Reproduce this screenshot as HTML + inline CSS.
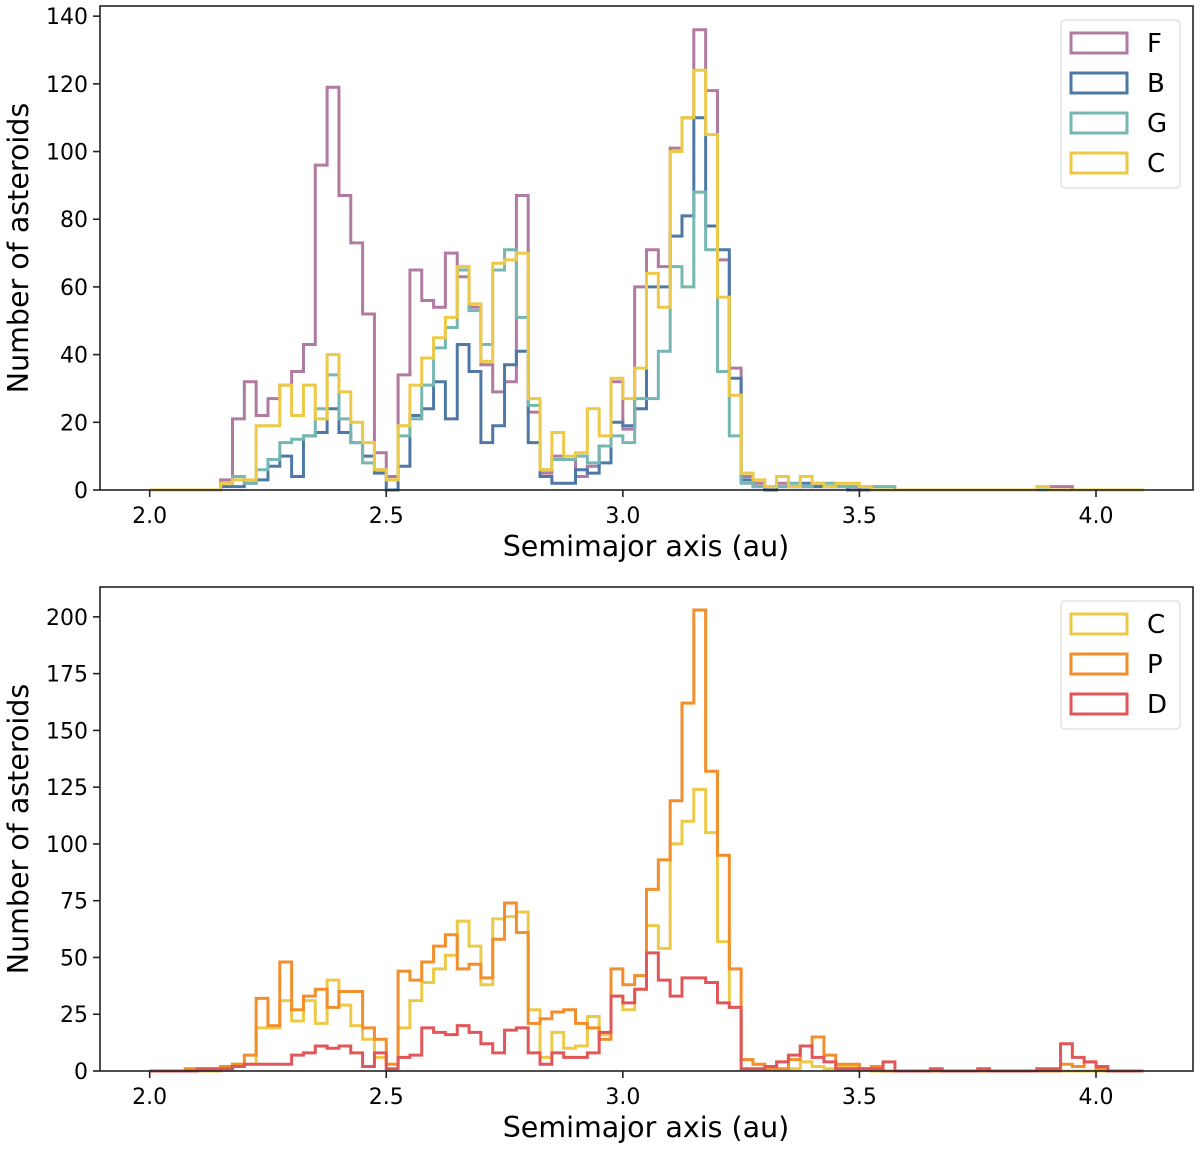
<!DOCTYPE html>
<html><head><meta charset="utf-8"><style>
body{margin:0;background:#fff}
svg text{font-family:"DejaVu Sans","Liberation Sans",sans-serif;fill:#000}
</style></head><body>
<svg id="chart" width="1200" height="1151" viewBox="0 0 1200 1151" xmlns="http://www.w3.org/2000/svg"></svg>
<script>
const binStart = 2.0;
const binWidth = 0.025;
const seriesF = [0,0,0,0,0,0,3,21,32,22,27,31,35,43,96,119,87,73,52,11,4,34,65,56,54,70,63,54,37,29,32,87,23,5,10,9,4,7,13,32,18,60,71,66,101,110,136,118,68,36,4,2,1,2,1,1,1,1,1,1,0,0,0,0,0,0,0,0,0,0,0,0,0,0,0,0,1,1,0,0,0,0,0,0];
const seriesB = [0,0,0,0,0,0,1,1,2,3,7,10,4,16,17,24,17,14,10,5,0,7,22,24,32,21,43,35,14,19,37,41,14,4,2,2,6,5,8,20,19,24,60,60,75,81,110,78,71,33,3,1,0,1,1,2,1,1,1,0,0,0,0,0,0,0,0,0,0,0,0,0,0,0,0,0,0,0,0,0,0,0,0,0];
const seriesG = [0,0,0,0,0,0,2,4,2,6,9,14,15,16,24,34,21,14,8,6,3,16,21,31,42,48,65,53,43,65,71,51,25,6,9,9,10,8,13,16,14,27,27,41,66,60,88,71,35,16,2,1,1,1,2,1,2,2,1,1,1,1,1,0,0,0,0,0,0,0,0,0,0,0,0,0,0,0,0,0,0,0,0,0];
const seriesC = [0,0,0,0,0,0,2,3,3,19,19,31,22,31,21,40,29,20,14,6,3,19,31,39,45,51,66,55,38,67,68,70,27,6,17,10,11,24,16,33,27,36,64,54,100,110,124,105,57,28,5,3,1,4,1,4,2,1,2,2,1,0,0,0,0,0,0,0,0,0,0,0,0,0,0,1,0,0,0,0,0,0,0,0];
const seriesP = [0,0,0,1,1,1,2,3,7,32,20,48,27,33,36,28,35,35,19,14,3,44,40,48,55,60,45,47,41,58,74,61,21,23,26,27,21,19,14,45,38,42,80,93,119,162,203,132,95,45,5,3,1,1,5,11,15,7,3,3,1,2,0,0,0,0,0,0,0,0,0,0,0,0,0,0,0,3,2,4,1,0,0,0];
const seriesD = [0,0,0,0,1,1,1,2,3,3,3,3,7,8,11,10,11,8,2,8,1,6,7,19,17,16,20,17,12,8,18,19,8,3,8,6,6,8,17,33,30,36,52,40,33,41,41,39,30,28,1,1,2,4,7,11,6,4,1,1,1,1,4,0,0,0,1,0,0,0,1,0,0,0,0,1,1,12,6,4,2,0,0,0];
const xTicks = [2.0,2.5,3.0,3.5,4.0];
const xTickLabels = ["2.0","2.5","3.0","3.5","4.0"];
const yTicksTop = [0,20,40,60,80,100,120,140];
const yTicksBottom = [0,25,50,75,100,125,150,175,200];

const NS="http://www.w3.org/2000/svg";
const svg=document.getElementById('chart');
function mk(tag,attrs,parent){const e=document.createElementNS(NS,tag);for(const k in attrs)e.setAttribute(k,attrs[k]);(parent||svg).appendChild(e);return e;}
const L=100,R=1193,XMIN=1.895,XMAX=4.205;
function xs(v){return L+(v-XMIN)/(XMAX-XMIN)*(R-L);}

function panel(name,top,bottom,ymax,yTicks,series,legendY){
  const g=mk('g',{});
  
  
  const ys=v=>bottom-v/ymax*(bottom-top);
  series.forEach(s=>{
    let d='M'+xs(binStart)+','+ys(0);
    s.vals.forEach((v,i)=>{d+=' V'+ys(v).toFixed(2)+' H'+xs(binStart+(i+1)*binWidth).toFixed(2);});
    d+=' V'+ys(0);
    const p=mk('path',{d:d,fill:'none',stroke:s.color,'stroke-width':3,'stroke-linejoin':'miter'},g);
    
    
  });
  const frame=mk('rect',{x:L,y:top,width:R-L,height:bottom-top,fill:'none',stroke:'#222','stroke-width':1.6},g);
  
  
  xTicks.forEach((t,i)=>{
    const x=xs(t);
    mk('line',{x1:x,x2:x,y1:bottom,y2:bottom+7,stroke:'#222','stroke-width':1.6},g);
    const tx=mk('text',{x:x,y:bottom+33,'font-size':22,'text-anchor':'middle'},g);
    tx.textContent=xTickLabels[i];
    
    
  });
  yTicks.forEach(t=>{
    const y=ys(t);
    mk('line',{x1:L-7,x2:L,y1:y,y2:y,stroke:'#222','stroke-width':1.6},g);
    const tx=mk('text',{x:L-12,y:y+8,'font-size':22,'text-anchor':'end'},g);
    tx.textContent=String(t);
    
    
  });
  const xt=mk('text',{x:646,y:bottom+66,'font-size':28.5,'text-anchor':'middle'},g);
  xt.textContent='Semimajor axis (au)';
  
  
  const cy=(top+bottom)/2;
  const yt=mk('text',{x:28,y:cy,'font-size':28.5,'text-anchor':'middle',transform:'rotate(-90 28 '+cy+')'},g);
  yt.textContent='Number of asteroids';
  
  
  const leg=mk('g',{},g);
  
  
  const lh=series.length*40+8;
  mk('rect',{x:1061,y:legendY,width:119,height:lh,rx:4,fill:'#fff','fill-opacity':0.85,stroke:'#ddd','stroke-width':1.2},leg);
  series.forEach((s,i)=>{
    const ry=legendY+13+i*40;
    const e=mk('g',{},leg);
    
    
    mk('rect',{x:1071,y:ry,width:56,height:20,fill:'none',stroke:s.color,'stroke-width':3},e);
    const t=mk('text',{x:1147,y:ry+19,'font-size':26},e);
    t.textContent=s.label;
  });
}
panel('top-panel',6,490,143,yTicksTop,[
  {label:'F',vals:seriesF,color:'#b07aa1'},
  {label:'B',vals:seriesB,color:'#4e79a7'},
  {label:'G',vals:seriesG,color:'#76b7b2'},
  {label:'C',vals:seriesC,color:'#edc948'}],20);
panel('bottom-panel',587,1071,213.15,yTicksBottom,[
  {label:'C',vals:seriesC,color:'#edc948'},
  {label:'P',vals:seriesP,color:'#f28e2b'},
  {label:'D',vals:seriesD,color:'#e15759'}],601);
</script>
</body></html>
